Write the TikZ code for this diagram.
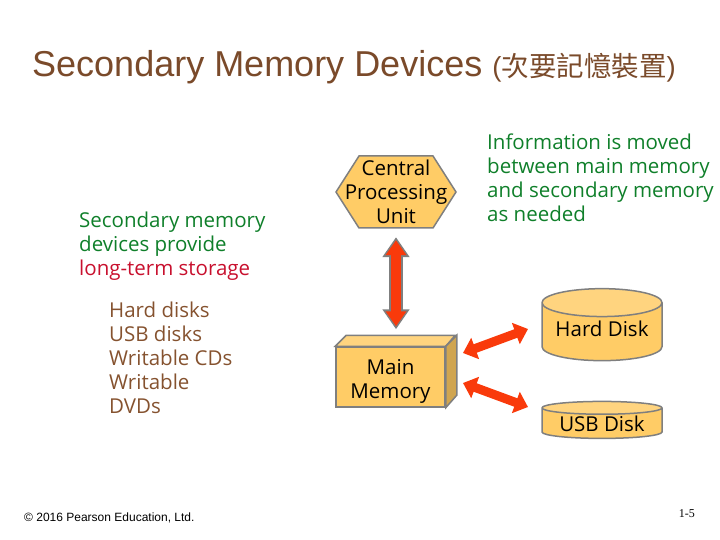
\documentclass[tikz,border=0pt]{standalone}
\usepackage{fontspec}
\setmainfont{Open Sans}
\newfontfamily\titlefont{Liberation Sans}
\newfontfamily\cjkfont{Noto Sans CJK TC}
\newfontfamily\footfont{Liberation Serif}
\usetikzlibrary{arrows.meta,shapes.geometric,calc}
\definecolor{boxfill}{HTML}{FFCC66}
\definecolor{boxtop}{HTML}{FFD47F}
\definecolor{boxside}{HTML}{D0A550}
\definecolor{boxedge}{HTML}{7F7F7F}
\definecolor{arrowred}{HTML}{F93A0B}
\definecolor{titlecol}{HTML}{7A4A2A}
\definecolor{textgreen}{HTML}{0F7F2A}
\definecolor{textred}{HTML}{C8102E}
\definecolor{textbrown}{HTML}{85522F}
\newcommand{\bodysize}{\fontsize{20.5}{24}\selectfont}
\tikzset{
  label text/.style={anchor=north west, align=left, inner sep=0pt, font=\bodysize},
  box text/.style={align=center, inner sep=0pt, font=\bodysize, text=black},
  disk/.style={cylinder, shape border rotate=90, draw=boxedge, line width=1.5pt, cylinder uses custom fill,
    cylinder body fill=boxfill, cylinder end fill=boxtop, minimum width=120pt, inner sep=0pt, font=\bodysize},
  big arrow/.style={draw=arrowred, line width=9pt, {Triangle[length=13pt,width=22pt]}-{Triangle[length=13pt,width=22pt]}},
  outlined arrow/.style={draw=arrowred, line width=10pt, shorten <=12pt, shorten >=20pt,
    {Triangle[length=15pt,width=20pt]}-{Triangle[length=15pt,width=20pt]},
    preaction={draw=boxedge, line width=14pt, shorten <=9pt, shorten >=17pt,
      {Triangle[length=20pt,width=26pt]}-{Triangle[length=20pt,width=26pt]}}}
}
\begin{document}
\begin{tikzpicture}[x=1pt,y=-1pt]
  \useasboundingbox (0,0) rectangle (720,540);

  \node[anchor=base west, inner sep=0pt, text=titlecol] (title) at (32,77)
    {\titlefont\fontsize{36}{36}\selectfont Secondary Memory Devices \fontsize{27.5}{27.5}\selectfont (\cjkfont 次要記憶裝置\titlefont)};

  \node[label text, text=textgreen] (intro) at (79,212)
    {Secondary memory\\devices provide\\\textcolor{textred}{long-term storage}};
  \node[label text, text=textbrown] (examples) at (109,302)
    {Hard disks\\USB disks\\Writable CDs\\Writable\\DVDs};
  \node[label text, text=textgreen] (moved) at (487,134)
    {Information is moved\\between main memory\\and secondary memory\\as needed};

  %% cpu
  \draw[fill=boxfill, draw=boxedge, line width=1.5pt] (336,192) -- (359,156) -- (433,156) -- (456,192) -- (433,228) -- (359,228) -- cycle;
  \node[box text, minimum width=120pt, minimum height=72pt] (cpu) at (396,192) {Central\\Processing\\Unit};

  %% main memory
  \node[box text, fill=boxfill, draw=boxedge, line width=1.5pt, minimum width=109pt, minimum height=60pt] (mem) at (390.5,377) {\rule{0pt}{23pt}Main\\Memory};
  \draw[fill=boxtop, draw=boxedge, line width=1.5pt] (mem.north west) -- ++(11,-11) -- ++(109,0) -- (mem.north east) -- cycle;
  \draw[fill=boxside, draw=boxedge, line width=1.5pt] (mem.north east) -- ++(11,-11) -- ++(0,60) -- (mem.south east) -- cycle;

  %% disks
  \node[disk, minimum height=72pt, aspect=0.3] (hard) at (602,332) {\raisebox{6pt}{Hard Disk}};
  \node[disk, minimum height=37pt, aspect=0.15] (usb) at (602,423.5) {USB Disk};

  \coordinate (memup) at (463,353);
  \coordinate (memdown) at (463,383);
  \coordinate (hardend) at (528,329);
  \coordinate (usbend) at (528,407);

  \draw[outlined arrow] (cpu.south) -- (mem.north -| cpu.south);
  \draw[big arrow] (memup) -- (hardend);
  \draw[big arrow] (memdown) -- (usbend);

  \node[anchor=base west, inner sep=0pt, font=\titlefont\fontsize{12}{12}\selectfont] (copy) at (24,521) {© 2016 Pearson Education, Ltd.};
  \node[anchor=base east, inner sep=0pt, font=\footfont\fontsize{12}{12}\selectfont] (page) at (695,517) {1-5};
\end{tikzpicture}
\end{document}
